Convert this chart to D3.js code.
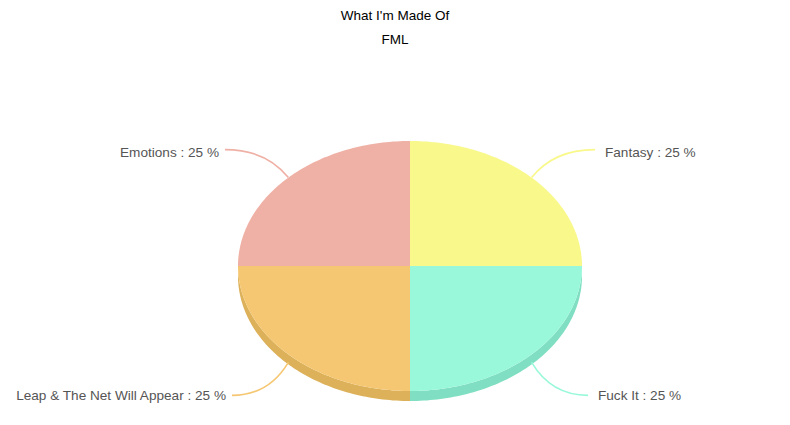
<!DOCTYPE html>
<html>
<head>
<meta charset="utf-8">
<script src="https://cdn.jsdelivr.net/npm/d3@7"></script>
<style>
  body { margin: 0; background: #fff; }
  svg { display: block; font-family: "Liberation Sans", Arial, sans-serif; }
</style>
</head>
<body>
<svg id="chart" width="790" height="425"></svg>
<script>
// chart data
var categories = ['Fantasy', 'Fuck It', 'Leap & The Net Will Appear', 'Emotions'];
var values = [25, 25, 25, 25];
var topColors = ['#f9f88b', '#99f8da', '#f5c772', '#efb0a5'];
var sideColors = ['#dedd70', '#80dfc2', '#dcb15a', '#d6988d'];

var width = 790, height = 425;
var cx = 410, cy = 266, rx = 172, ry = 125, depth = 10;

var svg = d3.select('#chart');

svg.append('text')
  .attr('x', width / 2).attr('y', 20)
  .attr('text-anchor', 'middle')
  .style('font-size', '13.5px').style('fill', '#000')
  .text("What I'm Made Of");

svg.append('text')
  .attr('x', width / 2).attr('y', 44)
  .attr('text-anchor', 'middle')
  .style('font-size', '13.5px').style('fill', '#000')
  .text('FML');

var data = categories.map(function (c, i) {
  return { name: c, value: values[i], top: topColors[i], side: sideColors[i] };
});

var total = d3.sum(values);
var pie = d3.pie().sort(null).value(function (d) { return d.value; });
var arcs = pie(data);

var px = function (a) { return cx + rx * Math.sin(a); };
var py = function (a) { return cy - ry * Math.cos(a); };

var ellipseArc = function (a0, a1) {
  var p = '';
  var steps = Math.max(2, Math.ceil((a1 - a0) / 0.02));
  for (var i = 0; i <= steps; i++) {
    var a = a0 + (a1 - a0) * i / steps;
    p += (i === 0 ? 'M' : 'L') + px(a) + ',' + py(a);
  }
  return p;
};

// side walls, only the front half (angles between PI/2 and 3PI/2)
var sides = svg.append('g');
arcs.forEach(function (d) {
  var a0 = Math.max(d.startAngle, Math.PI / 2);
  var a1 = Math.min(d.endAngle, 3 * Math.PI / 2);
  if (a1 <= a0) return;
  var path = ellipseArc(a0, a1);
  // back along the bottom edge
  var steps = Math.max(2, Math.ceil((a1 - a0) / 0.02));
  for (var i = steps; i >= 0; i--) {
    var a = a0 + (a1 - a0) * i / steps;
    path += 'L' + px(a) + ',' + (py(a) + depth);
  }
  path += 'Z';
  sides.append('path').attr('d', path).attr('fill', d.data.side);
});

// top faces
var tops = svg.append('g');
arcs.forEach(function (d) {
  var path = 'M' + cx + ',' + cy + 'L' + px(d.startAngle) + ',' + py(d.startAngle) +
    ellipseArc(d.startAngle, d.endAngle).replace(/^M/, 'L') + 'Z';
  tops.append('path').attr('d', path).attr('fill', d.data.top);
});

// labels with curved connectors
var labels = svg.append('g');
arcs.forEach(function (d) {
  var mid = (d.startAngle + d.endAngle) / 2;
  var right = Math.sin(mid) > 0;
  var lower = Math.cos(mid) < 0;
  var sx = px(mid), sy = py(mid) + (lower ? 8 : 0);
  var ex = cx + (right ? 1 : -1) * (lower ? 178 : 185);
  var ey = sy + (lower ? 33 : -28);
  var ctrlX = sx + (ex - sx) * 0.35;
  labels.append('path')
    .attr('d', 'M' + sx + ',' + sy + 'Q' + ctrlX + ',' + ey + ' ' + ex + ',' + ey)
    .attr('fill', 'none')
    .attr('stroke', d.data.top)
    .attr('stroke-width', 1.6);
  labels.append('text')
    .attr('x', ex + (right ? 10 : -6))
    .attr('y', ey + (lower ? 5 : 7))
    .attr('text-anchor', right ? 'start' : 'end')
    .style('font-size', '13.6px')
    .style('fill', '#555')
    .text(d.data.name + ' : ' + Math.round(d.value / total * 100) + ' %');
});
</script>
</body>
</html>
